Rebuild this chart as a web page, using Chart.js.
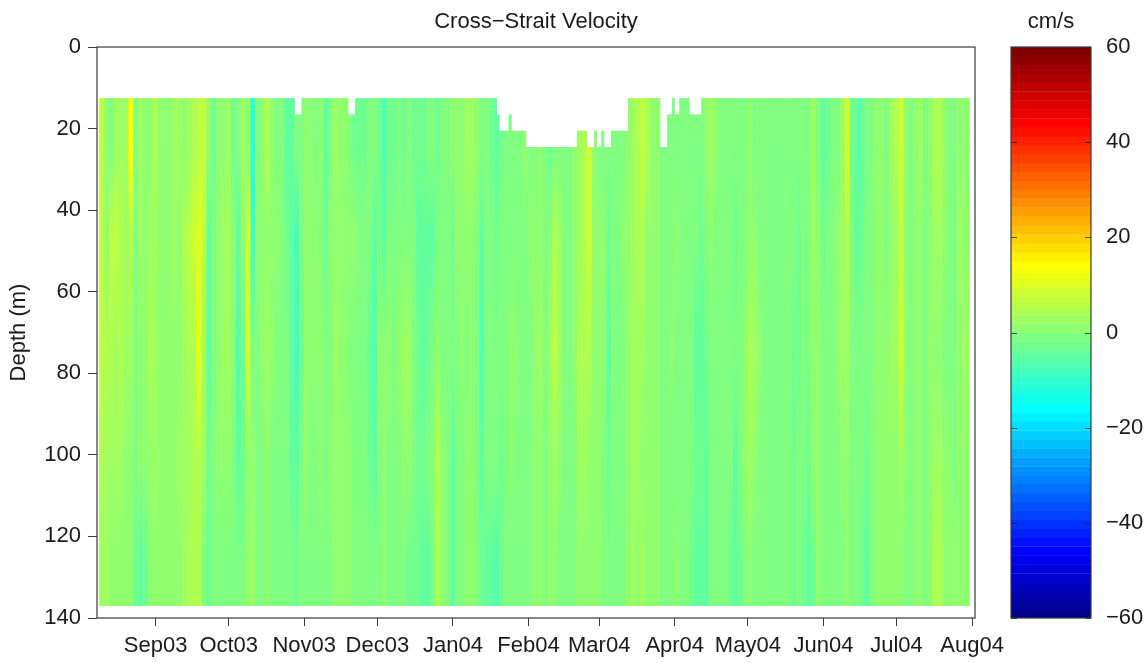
<!DOCTYPE html>
<html><head><meta charset="utf-8">
<style>
html,body{margin:0;padding:0;background:#fff}
#wrap{position:relative;width:1146px;height:663px}
canvas{position:absolute;left:0;top:0}
</style>
<script src="https://cdn.jsdelivr.net/npm/chart.js@4/dist/chart.umd.min.js"></script>
</head><body><div id="wrap"><canvas id="main" width="1146" height="663"></canvas><canvas id="bar" width="1146" height="663"></canvas></div>
<script>
const monthLabels=['Sep03','Oct03','Nov03','Dec03','Jan04','Feb04','Mar04','Apr04','May04','Jun04','Jul04','Aug04'];
const monthDays=[0,30,61,91,122,153,182,213,243,274,304,335];
const depthTicks=[0,20,40,60,80,100,120,140];
const colourTicks=[-60,-40,-20,0,20,40,60];
const firstColumnDay=-22;
const firstDay=-22.5;
const lastDay=333.5;
const levels=[12.6,16.6,20.6,24.6];
const fieldBottom=137;
const rowDepths=[26,46,75,102,126];
const gapStart=[57,79.5,140.5,141.5,144.9,145,152,173,177.5,180,181,183.5,184.5,187,207.5,210,213,219.5];
const gapEnd=[60,82.5,141.5,144.9,145.9,152,173,177.5,180,181,183.5,184.5,187,194,210,212,215,224];
const gapTop=[16.6,16.6,16.6,20.6,16.6,20.6,24.6,20.6,24.6,20.6,24.6,20.6,24.6,20.6,24.6,16.6,16.6,16.6];
const rowA=[8,2,1,4,5,5,15,0,4,2, 3,7,3,2,3,4,5,3,5,7, 8,9,3,-1,2,3,5,-1,1,5, 2,-8,1,3,7,3,1,0,-2,-3,
0,1,2,2,1,3,-2,1,4,2, 3,1,-1,-1,-1,1,1,-1,-4,-1, -1,0,-1,0,-1,-1,-1,0,0,-1, 0,1,2,3,3,5,4,2,1,1,
-1,-2,-1,0,0,1,0,2,1,1, 2,0,-1,1,0,1,1,2,4,6, 10,2,1,1,0,0,1,1,3,4, 7,9,7,3,2,1,1,1,0,1,
1,1,1,1,2,5,2,1,1,1, 0,0,1,2,1,1,0,1,0,1, 0,1,1,1,0,1,5,1,-2,-1, 0,1,5,10,-1,-3,-2,0,1,3,
2,1,4,6,10,3,1,2,4,1, 3,6,7,2,0,1,3,2];
const rowB=[9,3,8,9,7,5,7,1,4,2, 4,5,2,2,3,4,3,6,9,10, 13,9,-3,0,3,4,5,3,-3,2, 11,-6,2,2,3,2,2,1,-1,-3,
-6,0,2,2,3,1,-1,2,2,3, 3,3,2,0,1,1,-2,-1,-3,0, 0,0,1,0,0,-2,-2,-3,-2,0, 0,1,-1,2,2,3,2,1,-2,0,
0,-1,0,1,1,0,0,1,2,2, 3,1,2,6,5,1,1,2,5,7, 11,3,2,2,-1,0,0,2,3,4, 6,7,3,2,2,1,0,0,2,1,
1,0,0,-1,1,3,1,1,1,1, -1,1,1,3,2,1,1,0,0,1, 1,1,0,-1,0,1,4,2,-1,0, 0,2,4,7,0,-2,-1,0,1,2,
2,1,3,5,8,3,1,2,3,1, 2,4,5,2,1,1,4,3];
const rowC=[8,6,7,5,6,4,5,1,3,2, 6,4,3,3,3,3,3,5,6,7, 14,5,-3,1,3,5,5,2,-4,-1, 10,1,1,2,4,2,1,1,0,-3,
-7,-1,2,2,2,2,0,1,4,2, 3,1,1,0,0,-2,-5,2,3,2, 1,2,4,4,1,-1,-2,-1,1,3, 1,1,1,0,2,1,3,1,-4,0,
0,1,1,1,2,2,1,0,1,2, 4,1,4,9,5,1,1,2,6,7, 6,3,2,2,-2,0,0,1,2,5, 5,4,3,3,2,1,0,2,1,1,
1,0,-2,-2,-1,1,1,0,0,0, 0,0,3,6,4,2,1,1,1,1, 1,0,-1,-1,0,1,3,3,1,0, 1,2,4,5,1,0,0,0,0,2,
3,2,4,5,10,3,1,2,2,1, 2,3,3,1,1,1,3,5];
const rowD=[6,5,4,4,5,3,3,1,2,3, 3,4,3,2,3,3,4,4,5,6, 7,4,-1,1,2,3,3,1,-2,-1, 3,3,1,1,2,1,0,0,0,-2,
-3,1,2,1,1,2,1,2,3,3, 3,2,1,0,0,-1,-3,1,2,1, 1,1,2,2,0,-1,-1,0,2,6, 3,1,-2,0,1,2,2,0,-2,0,
0,0,-1,1,2,1,0,1,1,2, 2,0,3,4,3,1,1,1,4,4, 3,2,2,1,-1,0,0,1,2,4, 4,3,3,2,2,1,1,1,1,1,
1,0,-1,-1,-2,0,0,0,1,0, -2,0,2,4,2,1,0,1,1,0, 1,0,-1,0,0,-1,2,2,1,0, 0,1,2,3,1,0,0,-1,0,2,
3,2,3,3,5,2,1,2,2,1, 3,5,5,2,2,1,3,3];
const rowE=[4,5,3,3,2,3,2,-1,-2,-1, 2,2,3,2,2,2,2,5,6,6, 6,1,-1,1,1,1,1,0,0,1, 3,4,1,1,2,1,1,1,0,0,
-1,1,1,1,1,1,1,1,2,3, 3,2,0,1,1,0,0,1,3,1, 0,0,0,-1,-1,-1,-2,-2,1,6, 2,1,-3,0,1,2,2,1,-1,-3,
-2,-4,-1,0,1,0,1,1,1,2, 2,0,3,2,1,1,1,1,2,2, 2,2,3,1,0,0,1,1,3,5, 2,4,2,2,2,1,1,1,2,1,
0,-1,-2,-2,-2,0,0,0,0,-1, -2,-1,1,3,1,1,0,0,0,1, 0,0,-1,0,-1,-2,-1,2,1,0, 1,1,1,2,0,0,-1,-2,1,3,
3,3,3,2,2,1,1,3,3,1, 3,6,6,3,2,3,3,2];
const bandRows=[rowA,rowB,rowC,rowD,rowE];

const clamp=v=>Math.max(0,Math.min(1,v));
function jet(k){
  const r=k>56?(72-k)/16:(k-24)/16;
  const g=k<=40?(k-8)/16:(56-k)/16;
  const b=k<=8?(k+8)/16:(40-k)/16;
  return `rgb(${Math.round(clamp(r)*255)},${Math.round(clamp(g)*255)},${Math.round(clamp(b)*255)})`;
}
const colourOf=v=>jet(Math.max(1,Math.min(64,Math.floor(v/1.875)+32)));
const columnAt=d=>Math.max(0,Math.min(rowA.length-1,Math.round((d-firstColumnDay)/2)));
function topOf(d){
  for(let i=0;i<gapStart.length;i++) if(d>=gapStart[i]&&d<gapEnd[i]) return gapTop[i];
  return levels[0];
}
function columnFill(ctx){
  if(ctx.type!=='data') return 'transparent';
  const y=ctx.chart.scales.y, i=ctx.raw.col;
  const a=y.getPixelForValue(levels[3]), b=y.getPixelForValue(fieldBottom);
  if(!Number.isFinite(a)||!Number.isFinite(b)) return 'transparent';
  const g=ctx.chart.ctx.createLinearGradient(0,a,0,b);
  bandRows.forEach((row,r)=>g.addColorStop((rowDepths[r]-levels[3])/(fieldBottom-levels[3]),colourOf(row[i])));
  return g;
}
const datasets=[];
for(let b=0;b<levels.length-1;b++){
  const data=[],bg=[];
  for(let d=firstDay;d<=lastDay;d+=1){
    if(topOf(d)<=levels[b]){data.push({x:d,y:[levels[b],levels[b+1]]});bg.push(colourOf(rowA[columnAt(d)]));}
  }
  datasets.push({label:'upper '+b,data,backgroundColor:bg,borderWidth:0,inflateAmount:0.3,barPercentage:2,categoryPercentage:1,grouped:false});
}
datasets.push({label:'last day',data:[{x:lastDay,y:[levels[3],fieldBottom],col:rowA.length-1}],backgroundColor:columnFill,borderWidth:0,inflateAmount:0.3,barPercentage:2,categoryPercentage:1,grouped:false});
datasets.push({label:'field',data:rowA.map((v,i)=>({x:firstColumnDay+2*i,y:[levels[3],fieldBottom],col:i})),
  backgroundColor:columnFill,borderWidth:0,inflateAmount:0.3,barPercentage:4,categoryPercentage:1,grouped:false});
const FONT='"Liberation Sans", Arial, sans-serif';
const TXT='#1a1a1a', AX='#3a3a3a';
const frame={id:'frame',afterDraw(c){const a=c.chartArea,g=c.ctx;g.save();g.strokeStyle=AX;g.lineWidth=1.2;g.strokeRect(a.left,a.top,a.right-a.left,a.bottom-a.top);g.restore();}};
new Chart(document.getElementById('main'),{
  type:'bar',data:{datasets},plugins:[frame],
  options:{responsive:false,animation:false,events:[],
    layout:{padding:{left:0,right:171,top:0,bottom:0}},
    plugins:{legend:{display:false},tooltip:{enabled:false},
      title:{display:true,text:'Cross\u2212Strait Velocity',color:TXT,font:{family:FONT,size:22,weight:'normal'},fullSize:false,padding:{top:8.5,bottom:12.1}}},
    scales:{
      x:{type:'linear',min:-24.05,max:336.2,offset:false,
        afterBuildTicks(s){s.ticks=monthDays.map(v=>({value:v}));},
        afterFit(s){s.height=45;},
        ticks:{autoSkip:false,maxRotation:0,minRotation:0,color:TXT,font:{family:FONT,size:22},padding:7,
          callback(v){return monthLabels[monthDays.indexOf(v)];}},
        grid:{offset:false,drawOnChartArea:false,tickLength:8,color:AX,lineWidth:1},border:{display:false}},
      y:{type:'linear',reverse:true,min:0,max:140,
        afterBuildTicks(s){s.ticks=depthTicks.map(v=>({value:v}));},
        afterFit(s){s.width=97;},
        title:{display:true,text:'Depth (m)',color:TXT,font:{family:FONT,size:22},padding:{top:6,bottom:0}},
        ticks:{color:TXT,font:{family:FONT,size:22},padding:7},
        grid:{offset:false,drawOnChartArea:false,tickLength:9,color:AX,lineWidth:1},border:{display:false}}
    }}
});
const levelLow=[],levelColour=[];
for(let k=1;k<=64;k++){levelLow.push(-60+(k-1)*1.875);levelColour.push(jet(k));}
const barTicks={id:'barTicks',afterDraw(c){const a=c.chartArea,g=c.ctx,y=c.scales.y;g.save();g.strokeStyle='rgba(30,30,30,.75)';g.lineWidth=1;
  colourTicks.forEach(v=>{const p=Math.round(y.getPixelForValue(v))+.5;g.beginPath();g.moveTo(a.left,p);g.lineTo(a.left+6,p);g.moveTo(a.right-6,p);g.lineTo(a.right,p);g.stroke();});g.restore();}};
new Chart(document.getElementById('bar'),{
  type:'bar',
  data:{datasets:[{label:'cm/s',data:levelLow.map(v=>({x:0.5,y:[v,v+1.875]})),backgroundColor:levelColour,borderWidth:0,inflateAmount:0.2,barPercentage:2,categoryPercentage:1}]},
  plugins:[barTicks,frame],
  options:{responsive:false,animation:false,events:[],
    layout:{padding:{left:1011,right:0,top:0,bottom:45}},
    plugins:{legend:{display:false},tooltip:{enabled:false},
      title:{display:true,text:'cm/s',color:TXT,font:{family:FONT,size:22,weight:'normal'},fullSize:false,padding:{top:8.5,bottom:12.1}}},
    scales:{
      x:{type:'linear',min:0,max:1,display:false},
      y:{type:'linear',position:'right',min:-60,max:60,
        afterBuildTicks(s){s.ticks=colourTicks.map(v=>({value:v}));},
        afterFit(s){s.width=55;},
        ticks:{color:TXT,font:{family:FONT,size:22},padding:7,callback:v=>String(v).replace('-','\u2212')},
        grid:{display:false},border:{display:false}}
    }}
});
</script></body></html>
